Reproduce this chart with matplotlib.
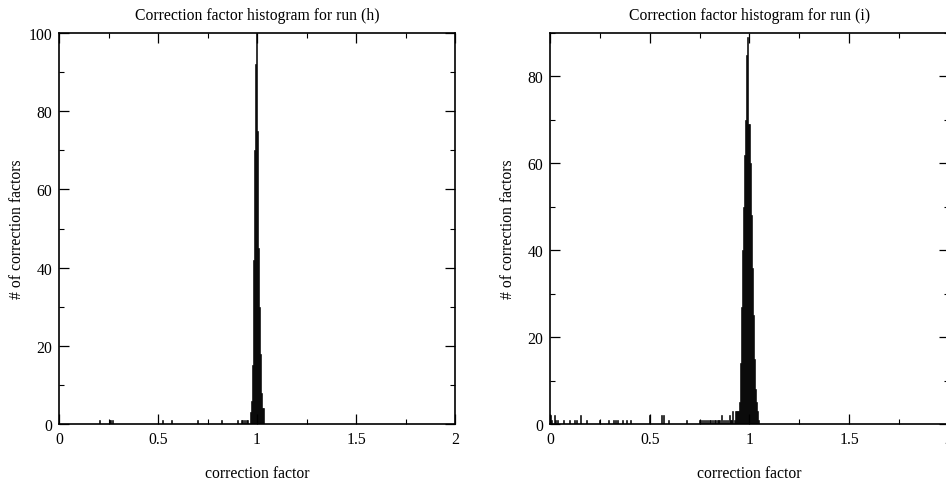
import matplotlib
matplotlib.use("Agg")
import matplotlib.pyplot as plt
from matplotlib.ticker import MultipleLocator, FuncFormatter

plt.rcParams['font.family'] = ['Liberation Serif', 'DejaVu Serif']
plt.rcParams['font.size'] = 11.3

# bin width of the histograms
bin_width = 0.005

# run (h): non-empty bins (bin centres) and counts
h_centers = [0.2025, 0.2525, 0.2575, 0.2725, 0.5225, 0.5675, 0.6975, 0.8225,
             0.9025, 0.9225, 0.9275, 0.9375, 0.9475, 0.9525,
             0.9675, 0.9725, 0.9775, 0.9825, 0.9875, 0.9925, 0.9975,
             1.0025, 1.0075, 1.0125, 1.0175, 1.0225, 1.0275, 1.0325]
h_counts = [1, 1, 1, 1, 1, 1, 1, 1,
            1, 1, 1, 1, 1, 1,
            3, 6, 15, 42, 70, 92, 100,
            75, 45, 30, 18, 8, 4, 4]

# run (i): non-empty bins (bin centres) and counts
i_centers = [0.0025, 0.0075, 0.0225, 0.0275, 0.0375, 0.0675, 0.0975, 0.1225,
             0.1325, 0.1525, 0.1825, 0.2475, 0.2925, 0.3175, 0.3275, 0.3375,
             0.3625, 0.3825, 0.4025, 0.4975, 0.5575, 0.5675, 0.5925, 0.6825,
             0.7475, 0.7575, 0.7675, 0.7775, 0.7875, 0.7975, 0.8075, 0.8175,
             0.8275, 0.8325, 0.8425, 0.8475, 0.8525, 0.8625, 0.8725, 0.8825,
             0.8925, 0.9025, 0.9075, 0.9125, 0.9175, 0.9275, 0.9325, 0.9375,
             0.9425, 0.9475, 0.9525, 0.9575, 0.9625, 0.9675, 0.9725, 0.9775,
             0.9825, 0.9875, 0.9925, 0.9975, 1.0025, 1.0075, 1.0125, 1.0175,
             1.0225, 1.0275, 1.0325, 1.0375, 1.0425, 1.0475]
i_counts = [2, 1, 2, 1, 1, 1, 1, 1,
            1, 2, 1, 1, 1, 1, 1, 1,
            1, 1, 1, 2, 2, 2, 1, 1,
            1, 1, 1, 1, 1, 1, 1, 1,
            1, 1, 1, 1, 1, 2, 1, 1,
            1, 2, 1, 1, 3, 1, 3, 3,
            3, 3, 5, 14, 27, 40, 50, 62,
            70, 85, 89, 69, 69, 60, 48, 36,
            25, 15, 8, 5, 3, 1]

titles = ["Correction factor histogram for run (h)",
          "Correction factor histogram for run (i)"]
ymax = [100, 90]

fig = plt.figure(figsize=(9.46, 4.85), dpi=100)
ax1 = fig.add_axes([0.0624, 0.1237, 0.4186, 0.8062])
ax2 = fig.add_axes([0.5814, 0.1237, 0.4215, 0.8062])

for ax, x, y, title, top in zip([ax1, ax2], [h_centers, i_centers],
                                [h_counts, i_counts], titles, ymax):
    ax.bar(x, y, width=bin_width, color='black', edgecolor='black', linewidth=0.4)
    ax.set_xlim(0, 2)
    ax.set_ylim(0, top)
    ax.xaxis.set_major_locator(MultipleLocator(0.5))
    ax.xaxis.set_minor_locator(MultipleLocator(0.25))
    ax.yaxis.set_major_locator(MultipleLocator(20))
    ax.yaxis.set_minor_locator(MultipleLocator(10))
    ax.xaxis.set_major_formatter(FuncFormatter(lambda v, p: '%g' % v))
    ax.tick_params(which='both', direction='in', top=True, right=True, labelsize=11.3)
    ax.tick_params(which='major', length=7.5, width=0.9, pad=5)
    ax.tick_params(which='minor', length=3.8, width=0.8)
    for s in ax.spines.values():
        s.set_linewidth(1.2)
    ax.set_title(title, fontsize=11.3, pad=10)
    ax.set_xlabel("correction factor", fontsize=11.3, labelpad=13)
    ax.set_ylabel("# of correction factors", fontsize=11.3)
    ax.yaxis.set_label_coords(-0.085, 0.5)

fig.savefig("out.png", dpi=100)
